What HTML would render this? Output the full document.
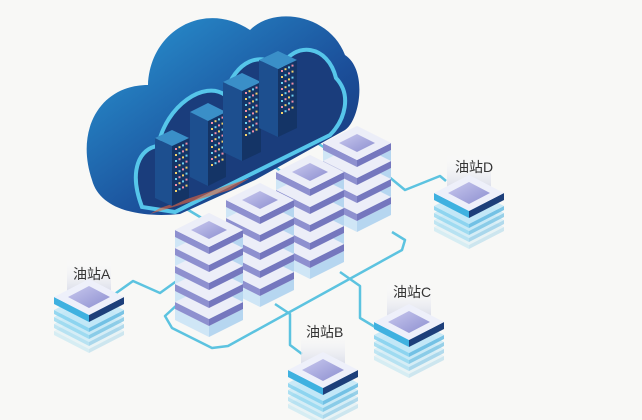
<!DOCTYPE html>
<html><head><meta charset="utf-8"><style>
html,body{margin:0;padding:0;background:#f8f8f6;}
svg{display:block}
text{font-family:"Liberation Sans","Noto Sans CJK SC",sans-serif;font-size:14px;fill:#333}
</style></head><body>
<svg id="s" width="642" height="420" viewBox="0 0 642 420" xmlns="http://www.w3.org/2000/svg">
<defs>
<linearGradient id="cg" x1="0" y1="0" x2="1" y2="1"><stop offset="0" stop-color="#2a9ad6"/><stop offset="0.6" stop-color="#1b4f9a"/><stop offset="1" stop-color="#162f6e"/></linearGradient>
<linearGradient id="lab" x1="0" y1="0" x2="0" y2="1"><stop offset="0" stop-color="#ffffff" stop-opacity="0"/><stop offset="1" stop-color="#d8dbe8"/></linearGradient>
<linearGradient id="top" x1="0" y1="0" x2="1" y2="1"><stop offset="0" stop-color="#c8c8ee"/><stop offset="1" stop-color="#8d8fd0"/></linearGradient>
</defs>
<rect width="642" height="420" fill="#f8f8f6"/>
<g id="lines" fill="none" stroke="#5cc3e0" stroke-width="2.5" stroke-linejoin="round">
<polyline points="112,296 133,281 160,293 178,280"/>
<polyline points="275,304 290,314 290,345 302,354"/>
<polyline points="340,272 360,286 360,318 380,330"/>
<polyline points="388,176 405,190 440,176 446,181"/>
<polyline points="178,304 165,316 172,328 212,348 228,346 402,250 405,240 392,232"/>
<polyline points="180,205 205,220"/>
<polyline points="262,158 282,172"/>
<polyline points="305,135 325,148"/>
</g>
<!-- cloud -->
<g>
<path d="M92,180 C75,130 100,85 148,85 C150,30 205,0 250,30 C275,5 330,15 345,55 C368,70 360,120 345,130 L255,180 L180,214 C140,218 100,210 92,180Z" fill="url(#cg)"/>
<path d="M142,207 C128,170 140,148 158,146 C166,105 205,80 225,95 C235,60 262,50 280,68 C295,40 328,45 336,78 C352,95 345,120 330,135 L225,187 L175,212 Z" fill="#1a3d7c" stroke="#56c6ea" stroke-width="4"/>
<path d="M150,214 L230,190 L250,178 L160,208Z" fill="#e8643a" opacity="0.6"/>
</g>
<g id="srv"></g>
<g id="tw"></g>
<g id="st"></g>
<text x="73" y="279">油站A</text>
<text x="306" y="337">油站B</text>
<text x="393" y="297">油站C</text>
<text x="455" y="172">油站D</text>
</svg>
<script>
var NS="http://www.w3.org/2000/svg";
function P(g,pts,f,op){var p=document.createElementNS(NS,"polygon");p.setAttribute("points",pts.map(function(a){return a.join(",")}).join(" "));p.setAttribute("fill",f);if(op!=null)p.setAttribute("opacity",op);g.appendChild(p);}
function box(g,cx,cy,w,h,H,t,l,r,op){
P(g,[[cx-w,cy],[cx,cy+h],[cx,cy+h+H],[cx-w,cy+H]],l,op);
P(g,[[cx,cy+h],[cx+w,cy],[cx+w,cy+H],[cx,cy+h+H]],r,op);
P(g,[[cx,cy-h],[cx+w,cy],[cx,cy+h],[cx-w,cy]],t,op);}
var sv=document.getElementById("srv");
[[172,138,17,8,60],[208,112,18,9,65],[242,82,19,9,70],[278,60,19,9,68]].forEach(function(s){
box(sv,s[0],s[1],s[2],s[3],s[4],"#3a8fc8","#1d4f8f","#143466");
for(var i=0;i<8;i++)for(var j=0;j<4;j++){var c=document.createElementNS(NS,"rect");c.setAttribute("x",s[0]+3+j*3.5);c.setAttribute("y",s[1]+10+i*6-j*1.8);c.setAttribute("width",2);c.setAttribute("height",2);c.setAttribute("fill",["#f08fa8","#f5d36a","#6fd0f0"][(i+j)%3]);sv.appendChild(c);}
});
var tw=document.getElementById("tw");
[[357,143,4],[310,172,5],[260,200,5],[209,230,5]].forEach(function(t){
var cx=t[0],cy=t[1],n=t[2],w=34,h=17;
for(var k=n-1;k>=0;k--){var y=cy+k*18+7;
box(tw,cx,y,w,h,11,"#e4e9f7","#cfe6f6","#b6d6f0");}
for(var k=n-1;k>=0;k--){var y=cy+k*18;
box(tw,cx,y,w,h,7,"#eceef8","#8e90cf","#7577be");}
box(tw,cx,cy,w,h,0,"#eceef8","#8e90cf","#7577be");
P(tw,[[cx,cy-9],[cx+18,cy],[cx,cy+9],[cx-18,cy]],"url(#top)");
});
var st=document.getElementById("st");
[[89,297],[323,370],[409,322],[469,193]].forEach(function(s){
var cx=s[0],cy=s[1],w=35,h=18;
var r=document.createElementNS(NS,"rect");r.setAttribute("x",cx-22);r.setAttribute("y",cy-40);r.setAttribute("width",44);r.setAttribute("height",36);r.setAttribute("fill","url(#lab)");st.appendChild(r);
for(var k=4;k>=1;k--){box(st,cx,cy+6+k*7,w,h,4,"#bfe6f6","#7fd0ee","#5fb8e0",1-k*0.18);}
box(st,cx,cy,w,h,7,"#eef0fa","#3fb1e0","#1d3f7a");
P(st,[[cx,cy-11],[cx+21,cy],[cx,cy+11],[cx-21,cy]],"url(#top)");
});
</script>
</body></html>
